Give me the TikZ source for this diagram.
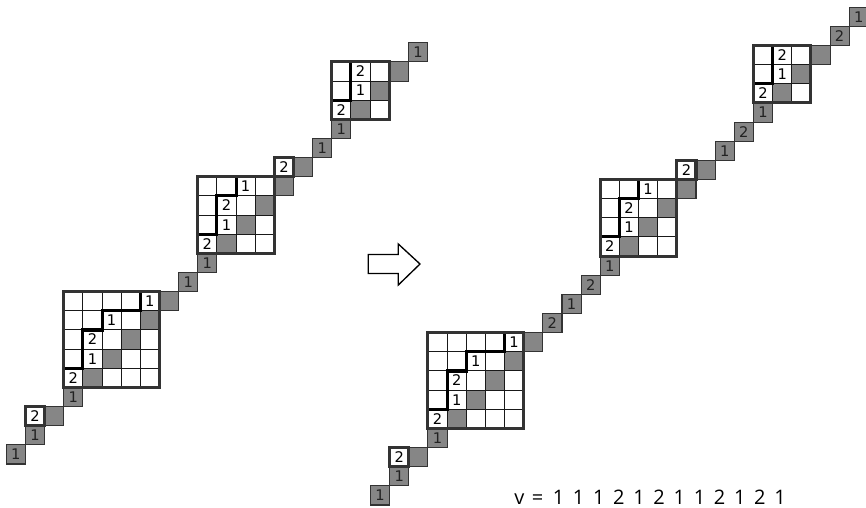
\documentclass[tikz,border=0pt]{standalone}
\usepackage{fontspec}
\setmainfont{DejaVu Sans}
\newfontfamily\vfont{Open Sans}
\definecolor{cellgray}{HTML}{868686}
\definecolor{edgedark}{HTML}{333333}
\definecolor{labdark}{HTML}{222222}
\tikzset{
  graycell/.style={fill=cellgray, draw=edgedark, line width=0.8pt},
  gridline/.style={draw=black!90, line width=0.75pt},
  blockframe/.style={draw=edgedark, line width=2.3pt},
  stairline/.style={draw=black, line width=2.3pt},
  boxcell/.style={fill=white, draw=edgedark, line width=2.3pt},
  lab/.style={font=\fontsize{11}{12}\selectfont, inner sep=0pt, text=black},
  glab/.style={lab, text=labdark},
  vtext/.style={font=\vfont\fontsize{15}{16}\selectfont, anchor=base, inner sep=0pt},
  hollowarrow/.style={draw=black, line width=1pt, fill=white, line join=miter},
}
\newcommand\GridBlock[4]{%
  \fill[white] (#1,#2) rectangle ++(#3,#3);
  \pgfmathtruncatemacro\blkm{#3-1}
  \foreach \k in {1,...,\blkm} \fill[cellgray] (#1+\k,#2+\k-1) rectangle ++(1,1);
  \foreach \k in {1,...,\blkm} {\draw[gridline] (#1+\k,#2) -- ++(0,#3); \draw[gridline] (#1,#2+\k) -- ++(#3,0);}
  \draw[stairline] #4;
  \draw[blockframe] (#1,#2) rectangle ++(#3,#3);
}
\begin{document}
\begin{tikzpicture}[x=0.75pt,y=-0.75pt]
\useasboundingbox (0,0) rectangle (866,507);

% ---------- left diagram ----------
\begin{scope}[shift={(6.3,464)}, x=14.36pt, y=14.36pt]
  \foreach \c in {0,1,2,3,8,9,10,14,15,16,17,20,21} \draw[graycell] (\c,\c) rectangle ++(1,1);
  \draw[boxcell] (1,2) rectangle ++(1,1);
  \draw[boxcell] (14,15) rectangle ++(1,1);
  \GridBlock{3}{4}{5}{(3,5) -- (4,5) -- (4,7) -- (5,7) -- (5,8) -- (7,8) -- (7,9)}
  \GridBlock{10}{11}{4}{(10,12) -- (11,12) -- (11,14) -- (12,14) -- (12,15)}
  \GridBlock{17}{18}{3}{(17,19) -- (18,19) -- (18,21)}
  \foreach \c/\r/\t in {0/0/1,1/1/1,3/3/1,9/9/1,10/10/1,16/16/1,17/17/1,21/21/1}
    \node[glab] (lg-\c-\r) at (\c+0.5,\r+0.5) {\t};
  \foreach \c/\r/\t in {1/2/2,3/4/2,4/5/1,4/6/2,5/7/1,7/8/1,10/11/2,11/12/1,11/13/2,12/14/1,14/15/2,17/18/2,18/19/1,18/20/2}
    \node[lab] (lw-\c-\r) at (\c+0.5,\r+0.5) {\t};
\end{scope}

% ---------- arrow ----------
\draw[hollowarrow] (368.3,254.5) -- (398.3,254.5) -- (398.3,244) -- (420,264) -- (398.3,285) -- (398.3,273.5) -- (368.3,273.5) -- cycle;

% ---------- right diagram ----------
\begin{scope}[shift={(370.5,505)}, x=14.36pt, y=14.36pt]
  \foreach \c in {0,1,2,3,8,9,10,11,12,16,17,18,19,20,23,24,25} \draw[graycell] (\c,\c) rectangle ++(1,1);
  \draw[boxcell] (1,2) rectangle ++(1,1);
  \draw[boxcell] (16,17) rectangle ++(1,1);
  \GridBlock{3}{4}{5}{(3,5) -- (4,5) -- (4,7) -- (5,7) -- (5,8) -- (7,8) -- (7,9)}
  \GridBlock{12}{13}{4}{(12,14) -- (13,14) -- (13,16) -- (14,16) -- (14,17)}
  \GridBlock{20}{21}{3}{(20,22) -- (21,22) -- (21,24)}
  \foreach \c/\r/\t in {0/0/1,1/1/1,3/3/1,9/9/2,10/10/1,11/11/2,12/12/1,18/18/1,19/19/2,20/20/1,24/24/2,25/25/1}
    \node[glab] (rg-\c-\r) at (\c+0.5,\r+0.5) {\t};
  \foreach \c/\r/\t in {1/2/2,3/4/2,4/5/1,4/6/2,5/7/1,7/8/1,12/13/2,13/14/1,13/15/2,14/16/1,16/17/2,20/21/2,21/22/1,21/23/2}
    \node[lab] (rw-\c-\r) at (\c+0.5,\r+0.5) {\t};
\end{scope}

% ---------- word ----------
\node[vtext] (vv) at (519.5,504) {v};
\node[vtext] (veq) at (537.5,504) {=};
\foreach \t [count=\i from 0] in {1,1,1,2,1,2,1,1,2,1,2,1}
  \node[vtext] (vd\i) at (558.5+20.14*\i,504) {\t};
\end{tikzpicture}
\end{document}
